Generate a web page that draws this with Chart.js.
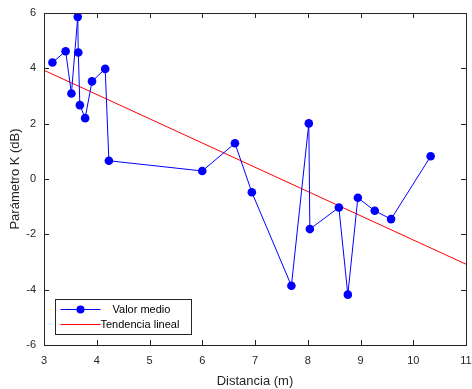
<!DOCTYPE html>
<html>
<head>
<meta charset="utf-8">
<script src="https://cdn.jsdelivr.net/npm/chart.js@4"></script>
<style>
  html, body { margin: 0; padding: 0; background: #ffffff; }
  #wrap { width: 472px; height: 389px; }
</style>
</head>
<body>
<div id="wrap"><canvas id="grafico"></canvas></div>
<script>
// valores
const distancia = [3.16, 3.41, 3.52, 3.64, 3.65, 3.68, 3.78, 3.91, 4.16, 4.23, 6.00, 6.62, 6.94, 7.69, 8.02, 8.04, 8.59, 8.76, 8.95, 9.27, 9.58, 10.33];
const kMedio = [4.21, 4.62, 3.09, 5.86, 4.57, 2.67, 2.20, 3.53, 3.98, 0.66, 0.29, 1.29, -0.48, -3.86, 2.01, -1.81, -1.03, -4.18, -0.68, -1.15, -1.45, 0.82];
const tendX = [3, 11];
const tendY = [3.93, -3.08];
const xTicks = [3, 4, 5, 6, 7, 8, 9, 10, 11];
const yTicks = [-6, -4, -2, 0, 2, 4, 6];
const etiquetas = ['Valor medio', 'Tendencia lineal'];

const ejeColor = '#262626';
const fuente = 'Arial, "Liberation Sans", sans-serif';

// caja y marcas hacia dentro, estilo matlab
const cajaPlugin = {
	id: 'caja',
	afterDraw(chart)
	{
		const ctx = chart.ctx;
		const a = chart.chartArea;
		const sx = chart.scales.x;
		const sy = chart.scales.y;
		const len = 5;
		ctx.save();
		ctx.strokeStyle = ejeColor;
		ctx.lineWidth = 1;
		ctx.beginPath();
		xTicks.forEach(v =>
		{
			const px = Math.round(sx.getPixelForValue(v)) + 0.5;
			ctx.moveTo(px, a.bottom);
			ctx.lineTo(px, a.bottom - len);
			ctx.moveTo(px, a.top);
			ctx.lineTo(px, a.top + len);
		});
		yTicks.forEach(v =>
		{
			const py = Math.round(sy.getPixelForValue(v)) + 0.5;
			ctx.moveTo(a.left, py);
			ctx.lineTo(a.left + len, py);
			ctx.moveTo(a.right, py);
			ctx.lineTo(a.right - len, py);
		});
		ctx.stroke();
		ctx.strokeStyle = ejeColor;
		ctx.strokeRect(Math.round(a.left) + 0.5, Math.round(a.top) + 0.5,
			Math.round(a.right - a.left), Math.round(a.bottom - a.top));

		// leyenda dentro del area
		const bx = Math.round(a.left) + 11.5, by = Math.round(a.bottom) - 45.5, bw = 136, bh = 35;
		ctx.fillStyle = '#ffffff';
		ctx.fillRect(bx, by, bw, bh);
		ctx.strokeStyle = ejeColor;
		ctx.strokeRect(bx, by, bw, bh);
		ctx.font = '11px ' + fuente;
		ctx.textBaseline = 'middle';
		ctx.textAlign = 'left';
		const filas = [by + 10, by + 25];
		ctx.lineWidth = 1;
		ctx.strokeStyle = '#0000ff';
		ctx.beginPath();
		ctx.moveTo(bx + 5, filas[0]);
		ctx.lineTo(bx + 45, filas[0]);
		ctx.stroke();
		ctx.fillStyle = '#0000ff';
		ctx.beginPath();
		ctx.arc(bx + 25, filas[0], 4, 0, Math.PI * 2);
		ctx.fill();
		ctx.strokeStyle = '#ff0000';
		ctx.beginPath();
		ctx.moveTo(bx + 5, filas[1]);
		ctx.lineTo(bx + 45, filas[1]);
		ctx.stroke();
		ctx.fillStyle = '#000000';
		ctx.fillText(etiquetas[0], bx + 57, filas[0]);
		ctx.fillText(etiquetas[1], bx + 45, filas[1]);
		ctx.restore();
	}
};

const ctx = document.getElementById('grafico');
new Chart(ctx,
{
	type: 'scatter',
	data:
	{
		datasets: [
			{
				label: etiquetas[0],
				data: distancia.map((x, i) => ({ x: x, y: kMedio[i] })),
				showLine: true,
				borderColor: '#0000ff',
				backgroundColor: '#0000ff',
				borderWidth: 1,
				pointRadius: 4.3,
				pointBorderWidth: 0,
				order: 1
			},
			{
				label: etiquetas[1],
				data: tendX.map((x, i) => ({ x: x, y: tendY[i] })),
				showLine: true,
				borderColor: '#ff0000',
				borderWidth: 1,
				pointRadius: 0,
				order: 2
			}
		]
	},
	options:
	{
		responsive: true,
		maintainAspectRatio: false,
		animation: false,
		layout: { padding: { top: 13, right: 6, left: 0, bottom: 0 } },
		plugins:
		{
			legend: { display: false },
			tooltip: { enabled: false }
		},
		scales:
		{
			x: {
				type: 'linear',
				min: 3,
				max: 11,
				afterBuildTicks: s => { s.ticks = xTicks.map(v => ({ value: v })); },
				afterFit: s => { s.height = 44; s.paddingLeft = 0; s.paddingRight = 0; },
				grid: { display: false, drawTicks: false },
				border: { display: false },
				ticks: { color: ejeColor, padding: 9, font: { size: 11, family: fuente } },
				title: {
					display: true,
					text: 'Distancia (m)',
					color: ejeColor,
					padding: { top: 2, bottom: 0 },
					font: { size: 13, family: fuente }
				}
			},
			y: {
				min: -6,
				max: 6,
				afterBuildTicks: s => { s.ticks = yTicks.map(v => ({ value: v })); },
				afterFit: s => { s.width = 44; s.paddingTop = 0; s.paddingBottom = 0; },
				grid: { display: false, drawTicks: false },
				border: { display: false },
				ticks: { color: ejeColor, padding: 8, font: { size: 11, family: fuente } },
				title: {
					display: true,
					text: 'Parámetro K (dB)',
					color: ejeColor,
					padding: { top: 8, bottom: 4 },
					font: { size: 13, family: fuente }
				}
			}
		}
	},
	plugins: [cajaPlugin]
});
</script>
</body>
</html>
